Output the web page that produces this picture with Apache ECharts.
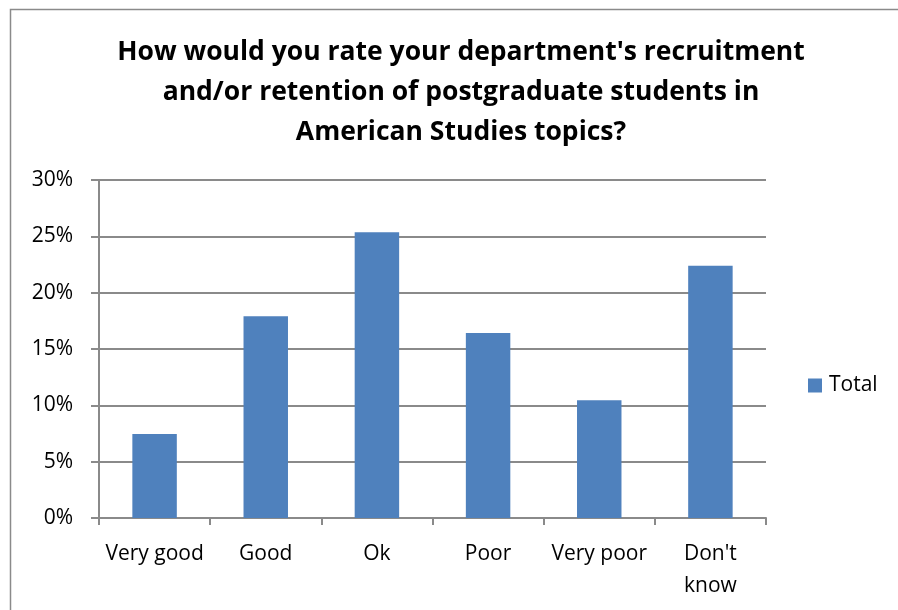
<!DOCTYPE html>
<html>
<head>
<meta charset="utf-8">
<script src="https://cdn.jsdelivr.net/npm/echarts@6/dist/echarts.min.js"></script>
<style>
  html, body { margin: 0; padding: 0; background: #fff; }
  #chart { width: 898px; height: 610px; }
</style>
</head>
<body>
<div id="chart"></div>
<script>
// Survey answers and the share of respondents (percent) for each
const categories = ['Very good', 'Good', 'Ok', 'Poor', 'Very poor', "Don't\nknow"];
const totals = [7.46, 17.91, 25.37, 16.42, 10.45, 22.39];
const yTicks = { min: 0, max: 30, interval: 5 };
const seriesName = 'Total';
const titleText = "How would you rate your department's recruitment\nand/or retention of postgraduate students in\nAmerican Studies topics?";

const FONT = '"Open Sans", "Liberation Sans", sans-serif';
const GRID_GREY = '#8a8a8a';
const BAR_BLUE = '#4f81bd';
const LABEL_SIZE = 21;

const chart = echarts.init(document.getElementById('chart'), null, { renderer: 'canvas' });

chart.setOption({
  backgroundColor: '#ffffff',
  animation: false,
  title: {
    text: titleText,
    left: 461,
    textAlign: 'center',
    top: 32,
    padding: 0,
    textStyle: {
      fontFamily: FONT,
      fontWeight: 'bold',
      fontSize: 26.5,
      lineHeight: 40,
      color: '#000'
    }
  },
  legend: {
    data: [seriesName],
    orient: 'vertical',
    left: 808,
    top: 375,
    padding: 0,
    itemWidth: 14,
    itemHeight: 14,
    itemGap: 0,
    icon: 'rect',
    textStyle: { fontFamily: FONT, fontSize: LABEL_SIZE, color: '#000', padding: [0, 0, 0, 2] }
  },
  grid: {
    left: 99,
    right: 132,
    top: 180,
    bottom: 92,
    containLabel: false
  },
  xAxis: {
    type: 'category',
    data: categories,
    axisLine: { show: true, lineStyle: { color: GRID_GREY, width: 2 } },
    axisTick: { show: true, alignWithLabel: false, length: 7, lineStyle: { color: GRID_GREY, width: 2 } },
    axisLabel: {
      interval: 0,
      margin: 20,
      fontFamily: FONT,
      fontSize: LABEL_SIZE,
      lineHeight: 32,
      color: '#000'
    }
  },
  yAxis: {
    type: 'value',
    min: yTicks.min,
    max: yTicks.max,
    interval: yTicks.interval,
    axisLine: { show: true, lineStyle: { color: GRID_GREY, width: 2 } },
    axisTick: { show: true, inside: false, length: 8, lineStyle: { color: GRID_GREY, width: 2 } },
    splitLine: { show: true, lineStyle: { color: GRID_GREY, width: 2 } },
    axisLabel: {
      formatter: '{value}%',
      margin: 26,
      fontFamily: FONT,
      fontSize: LABEL_SIZE,
      color: '#000'
    }
  },
  series: [{
    name: seriesName,
    type: 'bar',
    data: totals,
    barWidth: '40%',
    itemStyle: { color: BAR_BLUE }
  }],
  graphic: [{
    type: 'polyline',
    silent: true,
    shape: { points: [[10.5, 640], [10.5, 9.5], [920, 9.5]] },
    style: { stroke: GRID_GREY, lineWidth: 1.5, fill: null }
  }]
});
</script>
</body>
</html>
